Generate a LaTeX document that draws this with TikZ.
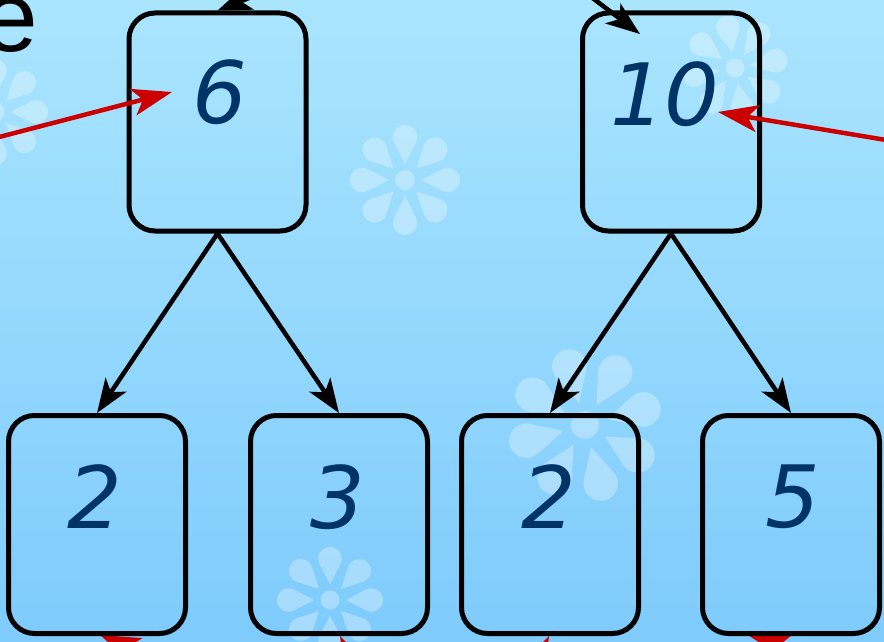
\documentclass[tikz,border=0pt]{standalone}
\usepackage{fontspec}
\usetikzlibrary{arrows.meta}
\newfontfamily\numfont{DejaVu Sans}
\newfontfamily\efont{Liberation Sans}
\definecolor{bgtop}{RGB}{170,229,254}
\definecolor{bgbot}{RGB}{126,203,252}
\definecolor{numblue}{RGB}{0,51,102}
\definecolor{arrred}{RGB}{204,0,0}
\tikzset{
  treebox/.style={draw=black, line width=5pt, rounded corners=26pt,
    minimum width=177pt, minimum height=218pt, inner sep=0pt},
  numtext/.style={text=numblue, font=\numfont\itshape\fontsize{86}{86}\selectfont, inner sep=0pt},
  edge/.style={draw=black, line width=4.5pt, -{Stealth[length=34pt,width=25pt,inset=9pt]}},
  pointer/.style={draw=arrred, line width=4.5pt, -{Stealth[length=40pt,width=27pt,inset=10pt]}},
  petal/.style={fill=white, fill opacity=0.3},
}
\newcommand\drawflower[4]{%
  \begin{scope}[shift={(#1,#2)}, scale=#3, rotate=#4]
    \foreach \a in {0,45,...,315}{
      \fill[petal, rotate=\a] (0.28,0) -- (0.644,0.187)
        arc[start angle=117.16, end angle=-117.16, radius=0.21] -- cycle;
    }
    \fill[petal] (0,0) circle[radius=0.17];
  \end{scope}}
\begin{document}
\begin{tikzpicture}[x=1pt, y=-1pt]
  \useasboundingbox (0,0) rectangle (884,642);
  \clip (0,0) rectangle (884,642);
  \shade[top color=bgtop, bottom color=bgbot] (0,0) rectangle (884,642);
  % flowers
  \drawflower{405}{180}{58}{0}
  \drawflower{735}{68}{56}{10}
  \drawflower{585}{425}{82}{15}
  \drawflower{330}{600}{56}{0}
  \drawflower{-5}{112}{56}{0}
  % text fragment
  \node[font=\efont\fontsize{100}{100}\selectfont, anchor=base east, inner sep=0pt] (etext) at (38,52) {e};
  % red pointers entering the lower boxes from below
  \coordinate (rb2) at (300,720);
  \coordinate (tb2) at (100,635);
  \coordinate (rb3) at (400,760);
  \coordinate (tb3) at (340,636);
  \coordinate (rb2b) at (490,760);
  \coordinate (tb2b) at (549,636);
  \coordinate (rb5) at (560,720);
  \coordinate (tb5) at (792,635);
  \draw[pointer] (rb2) -- (tb2);
  \draw[pointer] (rb3) -- (tb3);
  \draw[pointer] (rb2b) -- (tb2b);
  \draw[pointer] (rb5) -- (tb5);
  % boxes
  \node[treebox] (b6) at (217.5,122) {};
  \node[treebox] (b10) at (671,122) {};
  \node[treebox] (b2) at (97,524.5) {};
  \node[treebox] (b3) at (339,524.5) {};
  \node[treebox] (b2b) at (550,524.5) {};
  \node[treebox] (b5) at (791,524.5) {};
  % numbers
  \node[numtext] (n6) at (220,92) {6};
  \node[numtext] (n10) at (665,94) {10};
  \node[numtext] (n2) at (95,497) {2};
  \node[numtext] (n3) at (338,497) {3};
  \node[numtext] (n2b) at (549,497) {2};
  \node[numtext] (n5) at (793,497) {5};
  % tree edges
  \draw[edge] (b6.south) -- (b2.north);
  \draw[edge] (b6.south) -- (b3.north);
  \draw[edge] (b10.south) -- (b2b.north);
  \draw[edge] (b10.south) -- (b5.north);
  % edges from parents above
  \coordinate (src6) at (420,-70);
  \coordinate (src10) at (520,-57);
  \coordinate (tip10) at (640,34);
  \draw[edge] (src6) -- (b6.north);
  \draw[edge] (src10) -- (tip10);
  % red pointers to the upper numbers
  \coordinate (r6) at (-20,142);
  \coordinate (t6) at (172,92);
  \coordinate (r10) at (904,143);
  \coordinate (t10) at (718,112);
  \draw[pointer] (r6) -- (t6);
  \draw[pointer] (r10) -- (t10);
\end{tikzpicture}
\end{document}
